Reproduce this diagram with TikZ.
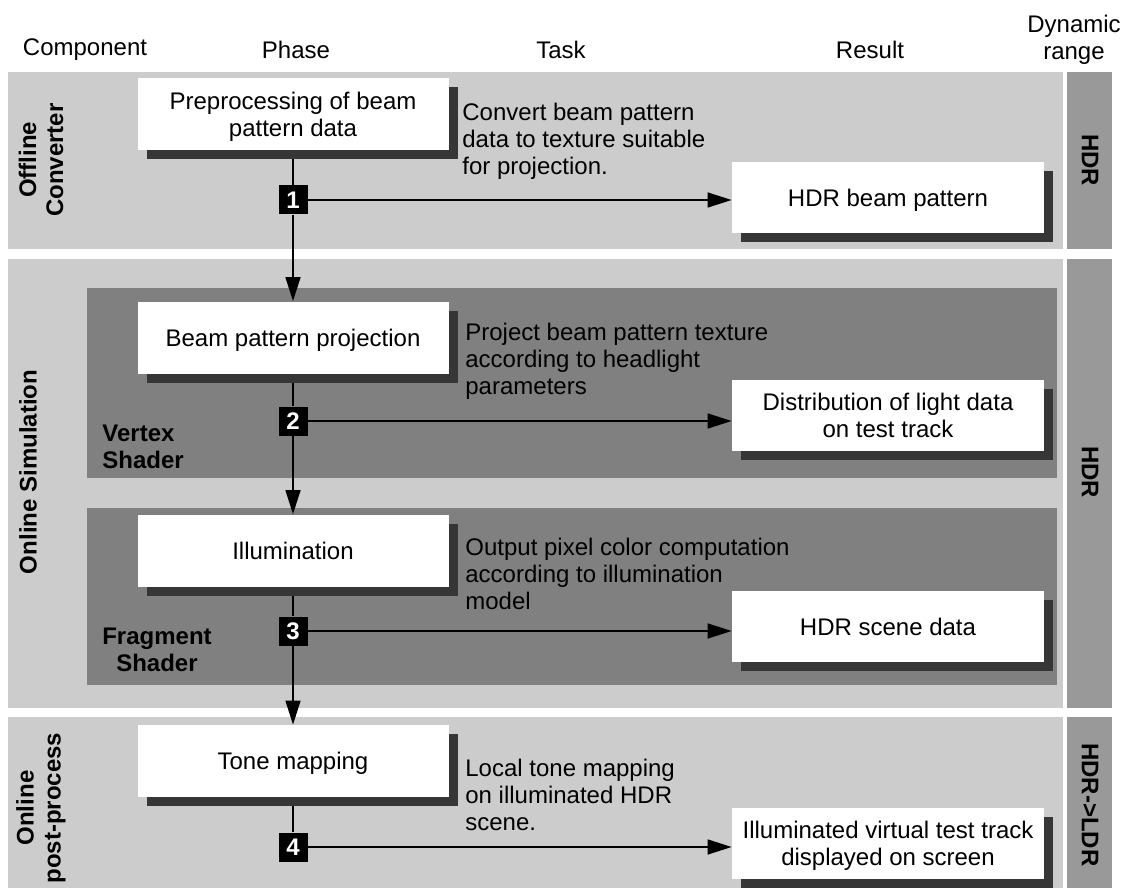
\documentclass[tikz,border=0pt]{standalone}
\usepackage{fontspec}
\setmainfont{Liberation Sans}
\usetikzlibrary{arrows.meta,shadows}
\pgfdeclarelayer{bg}
\pgfdeclarelayer{mid}
\pgfsetlayers{bg,mid,main}
\definecolor{bandc}{HTML}{CCCCCC}
\definecolor{panelc}{HTML}{808080}
\definecolor{rangec}{HTML}{999999}
\definecolor{shadowc}{HTML}{363636}
\tikzset{
  txt/.style={font=\fontsize{12}{13.5}\selectfont, inner sep=0pt},
  bold/.style={font=\fontsize{12}{13.5}\selectfont\bfseries, inner sep=0pt},
  boxbase/.style={txt, fill=white, align=center, text depth=0pt,
    drop shadow={shadow xshift=4.5pt, shadow yshift=-4.5pt, fill=shadowc, opacity=1}},
  phasebox/.style={boxbase, minimum width=155.5pt, minimum height=36pt},
  resultbox/.style={boxbase, minimum width=156pt, minimum height=35.5pt},
  badge/.style={fill=black, text=white, font=\fontsize{12}{13.5}\selectfont\bfseries,
    minimum size=14.5pt, inner sep=0pt},
  tasktext/.style={txt, anchor=west, align=left},
  flow/.style={line width=0.75pt},
  flowarrow/.style={flow, -{Triangle[length=12pt, width=7.5pt]}},
}
\begin{document}
\begin{tikzpicture}[x=0.5pt, y=-0.5pt]
\useasboundingbox (0,0) rectangle (1126,888);

% component bands, dynamic range column and shader panels
\begin{pgfonlayer}{bg}
  \fill[white] (0,0) rectangle (1126,888);
  \fill[bandc] (8,72) rectangle (1063,249);
  \fill[bandc] (8,259) rectangle (1063,708);
  \fill[bandc] (8,717) rectangle (1063,888);
  \fill[rangec] (1067,72) rectangle (1112,249);
  \fill[rangec] (1067,259) rectangle (1112,708);
  \fill[rangec] (1067,717) rectangle (1112,888);
  \fill[panelc] (87,288) rectangle (1057,478);
  \fill[panelc] (87,508) rectangle (1057,685);
\end{pgfonlayer}

% column headers
\node[txt] (hcomp) at (85,50) {Component};
\node[txt] (hphase) at (296,50) {Phase};
\node[txt] (htask) at (561,50) {Task};
\node[txt] (hres) at (870,50) {Result};
\node[txt, align=center] (hrange) at (1074,40) {Dynamic\\range};

% component labels
\node[bold, rotate=90, align=center] (lconv) at (41,160) {Offline\\Converter};
\node[bold, rotate=90] (lsim) at (28,472) {Online Simulation};
\node[bold, rotate=90, align=center] (lpost) at (41,808) {Online\\post-process};
\node[bold, align=left, anchor=north west] (lvert) at (102,425) {Vertex\\Shader};
\node[bold, align=center] (lfrag) at (157,650) {Fragment\\Shader};

% dynamic range labels
\node[bold, rotate=-90] (dr1) at (1090,160) {HDR};
\node[bold, rotate=-90] (dr2) at (1090,472) {HDR};
\node[bold, rotate=-90] (dr3) at (1090,805) {HDR->LDR};

% phases
\node[phasebox] (p1) at (293,114) {Preprocessing of beam\\pattern data};
\node[phasebox] (p2) at (293,337.5) {Beam pattern projection};
\node[phasebox] (p3) at (293,550.5) {Illumination};
\node[phasebox] (p4) at (293,761) {Tone mapping};

% tasks
\node[tasktext] (t1) at (462,141) {Convert beam pattern\\data to texture suitable\\for projection.};
\node[tasktext] (t2) at (465,361) {Project beam pattern texture\\according to headlight\\parameters};
\node[tasktext] (t3) at (465,573.5) {Output pixel color computation\\according to illumination\\model};
\node[tasktext] (t4) at (465,794.5) {Local tone mapping\\on illuminated HDR\\scene.};

% results
\node[resultbox] (r1) at (888,197.5) {HDR beam pattern};
\node[resultbox] (r2) at (888,415) {Distribution of light data\\on test track};
\node[resultbox] (r3) at (888,626.5) {HDR scene data};
\node[resultbox] (r4) at (888,843.5) {Illuminated virtual test track\\displayed on screen};

% step badges
\node[badge] (b1) at (293,200) {1};
\node[badge] (b2) at (293,421) {2};
\node[badge] (b3) at (293,631) {3};
\node[badge] (b4) at (293,847) {4};

% flow connectors
\begin{pgfonlayer}{mid}
  \draw[flow] (p1.south) -- (b1.north);
  \draw[flowarrow] (b1.south) -- (p2.north);
  \draw[flowarrow] (b1.east) -- (r1.west |- b1.east);
  \draw[flow] (p2.south) -- (b2.north);
  \draw[flowarrow] (b2.south) -- (p3.north);
  \draw[flowarrow] (b2.east) -- (r2.west |- b2.east);
  \draw[flow] (p3.south) -- (b3.north);
  \draw[flowarrow] (b3.south) -- (p4.north);
  \draw[flowarrow] (b3.east) -- (r3.west |- b3.east);
  \draw[flow] (p4.south) -- (b4.north);
  \draw[flowarrow] (b4.east) -- (r4.west |- b4.east);
\end{pgfonlayer}
\end{tikzpicture}
\end{document}
